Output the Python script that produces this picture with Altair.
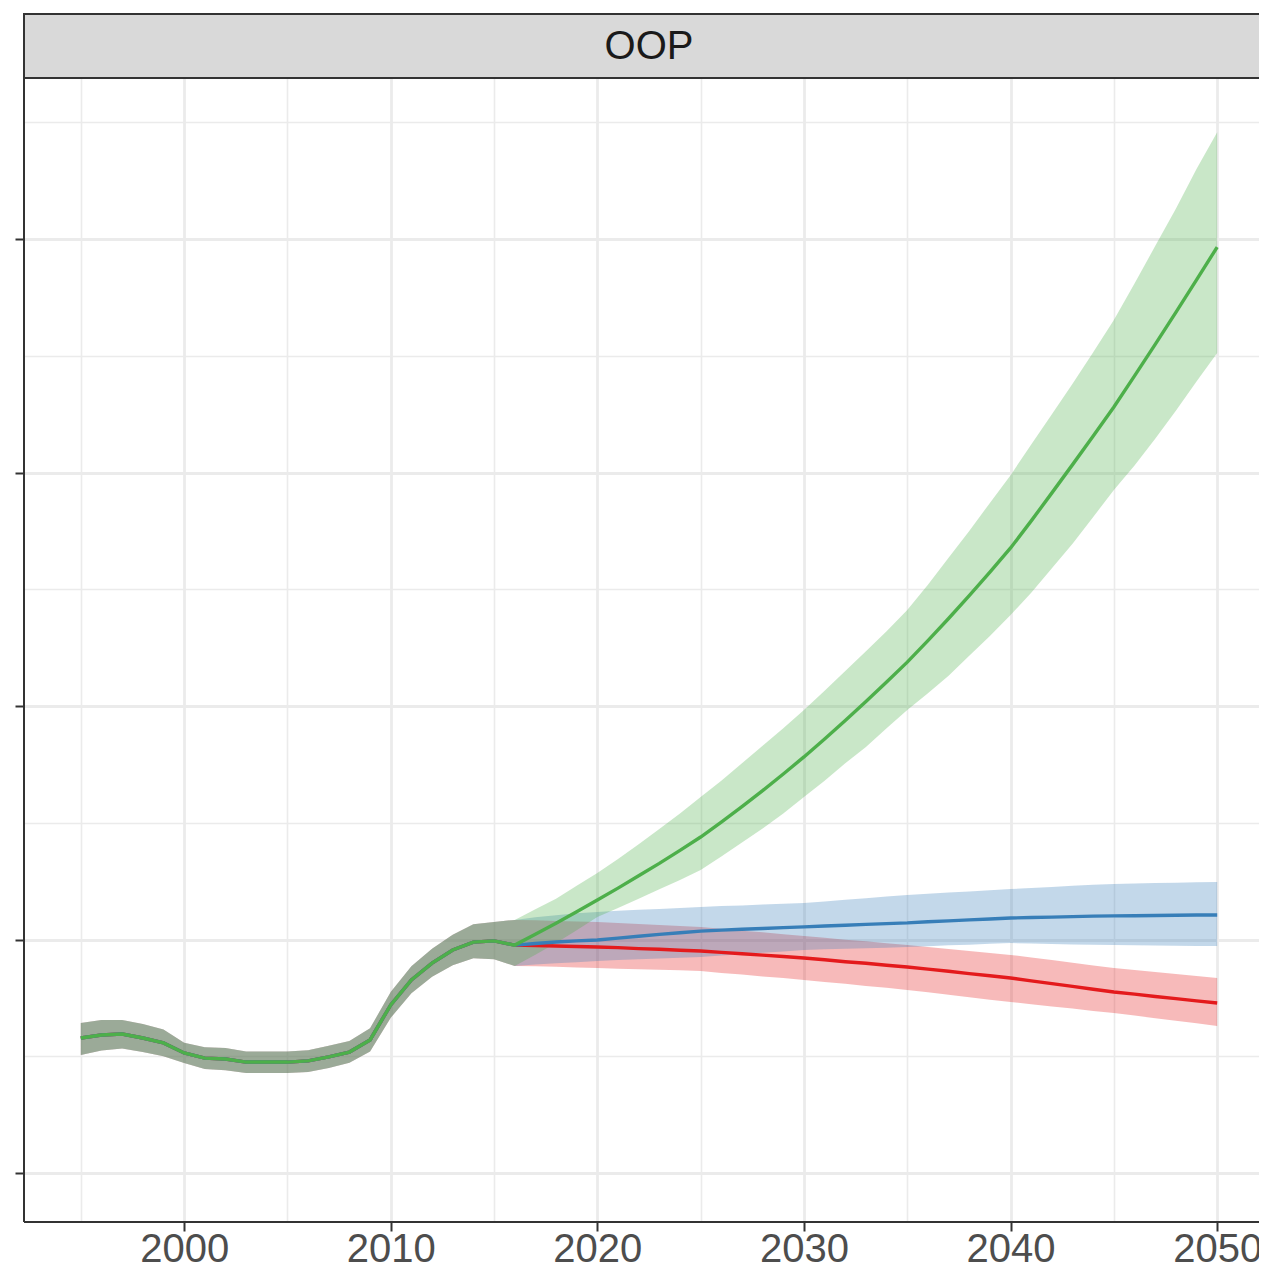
import altair as alt
import pandas as pd

panel_title = "OOP"
scenarios = ["Scenario A", "Scenario B", "Scenario C"]
scenario_colors = ["#E41A1C", "#377EB8", "#4DAF4A"]

# historical part (shared by all scenarios), 1995-2016
hist_years = list(range(1995, 2017))
hist_mean = [57.8, 59.1, 59.5, 57.8, 55.7, 51.4, 49.2, 48.8, 47.5, 47.5, 47.5,
             48.0, 49.7, 51.8, 57.0, 72.0, 82.7, 89.9, 95.5, 98.9, 99.4, 97.6]
hist_lo = [50.5, 52.5, 53.3, 51.8, 50.0, 47.1, 44.5, 44.0, 42.8, 42.8, 42.8,
           43.3, 45.0, 47.2, 52.0, 66.5, 77.0, 84.0, 89.0, 92.0, 91.5, 88.7]
hist_hi = [64.2, 65.5, 65.5, 63.8, 61.5, 55.8, 53.8, 53.5, 52.0, 52.0, 52.0,
           52.6, 54.5, 56.5, 62.0, 77.5, 88.5, 96.0, 102.0, 106.5, 107.5, 108.4]

# projections, 2017-2050
proj_years = list(range(2017, 2051))
red_mean = [97.4, 97.2, 97.0, 96.8, 96.5, 96.1, 95.8, 95.4, 95.1, 94.5, 93.9, 93.3,
            92.7, 92.1, 91.3, 90.5, 89.8, 89.0, 88.2, 87.3, 86.4, 85.4, 84.5, 83.5,
            82.3, 81.1, 79.9, 78.7, 77.5, 76.6, 75.6, 74.7, 73.7, 72.8]
red_hi = [108.2, 107.9, 107.7, 107.5, 107.1, 106.6, 106.2, 105.8, 105.4, 104.6, 103.8,
          103.1, 102.3, 101.5, 100.7, 99.9, 99.2, 98.4, 97.6, 96.8, 95.9, 95.1, 94.2,
          93.4, 92.3, 91.2, 90.0, 88.9, 87.8, 86.9, 86.1, 85.2, 84.4, 83.5]
red_lo = [88.5, 88.3, 88.0, 87.8, 87.5, 87.3, 87.0, 86.8, 86.5, 85.7, 85.0, 84.2,
          83.5, 82.7, 81.8, 81.0, 80.1, 79.3, 78.4, 77.4, 76.3, 75.3, 74.2, 73.2,
          72.3, 71.3, 70.4, 69.4, 68.5, 67.4, 66.3, 65.2, 64.1, 63.0]
blue_mean = [98.3, 98.9, 99.4, 99.8, 100.6, 101.4, 102.2, 102.9, 103.6, 104.0, 104.4,
             104.7, 105.1, 105.4, 105.8, 106.1, 106.5, 106.8, 107.1, 107.6, 108.0,
             108.4, 108.8, 109.2, 109.4, 109.6, 109.8, 110.0, 110.1, 110.2, 110.3,
             110.4, 110.5, 110.5]
blue_hi = [109.5, 110.4, 111.2, 111.8, 112.3, 112.7, 113.1, 113.5, 113.9, 114.3, 114.6,
           115.0, 115.3, 115.6, 116.3, 117.0, 117.7, 118.4, 119.1, 119.6, 120.1, 120.6,
           121.1, 121.6, 122.1, 122.5, 123.0, 123.4, 123.8, 124.0, 124.2, 124.3, 124.5,
           124.6]
blue_lo = [89.3, 89.8, 90.3, 90.8, 91.2, 91.5, 91.9, 92.2, 92.5, 93.1, 93.7, 94.3,
           94.9, 95.5, 95.8, 96.0, 96.3, 96.5, 96.8, 97.1, 97.5, 97.8, 98.2, 98.5,
           98.3, 98.1, 97.9, 97.8, 97.6, 97.5, 97.4, 97.3, 97.2, 97.2]
green_mean = [102.3, 107.0, 111.9, 116.9, 122.0, 127.3, 132.6, 138.2, 143.9, 150.3,
              156.9, 163.8, 170.9, 178.2, 185.9, 193.8, 201.9, 210.3, 218.8, 228.0,
              237.5, 247.3, 257.4, 267.7, 279.3, 291.3, 303.4, 315.7, 328.1, 341.4,
              354.9, 368.6, 382.5, 396.6]
green_hi = [113.0, 117.5, 123.0, 128.5, 134.5, 140.8, 147.3, 154.0, 161.0, 168.0, 175.5,
            183.0, 190.5, 198.3, 206.5, 215.0, 223.5, 232.0, 241.1, 252.0, 263.5, 275.0,
            287.0, 298.9, 312.0, 325.0, 338.0, 351.5, 365.3, 381.0, 397.0, 413.0, 430.0,
            445.8]
green_lo = [93.5, 98.5, 104.0, 109.6, 113.5, 117.5, 121.5, 125.5, 129.8, 135.5, 141.5,
            147.5, 154.0, 161.0, 168.0, 175.5, 182.5, 190.5, 198.3, 205.5, 213.0, 221.5,
            230.0, 239.0, 248.5, 259.0, 269.5, 281.0, 292.5, 303.0, 314.5, 326.5, 339.0,
            351.2]

x_grid_values = list(range(1995, 2051, 5))
y_grid_values = list(range(0, 451, 50))

series = [
    (scenarios[0], red_mean, red_lo, red_hi),
    (scenarios[1], blue_mean, blue_lo, blue_hi),
    (scenarios[2], green_mean, green_lo, green_hi),
]
rows = []
for name, m, lo, hi in series:
    for yr, a, b, c in zip(hist_years + proj_years, hist_mean + m, hist_lo + lo, hist_hi + hi):
        rows.append({"scenario": name, "year": yr, "value": a, "lower": b, "upper": c})
df = pd.DataFrame(rows)

FONT = "Liberation Sans"
BORDER = "#333333"
W, H_PANEL, H_STRIP = 1250, 1144, 64
H_ALL = H_PANEL + H_STRIP
Y_LO, Y_HI = -21.0, 469.0
Y_TOP = Y_HI + (Y_HI - Y_LO) * H_STRIP / H_PANEL  # strip sits above the panel

x_enc = alt.X(
    "year:Q",
    scale=alt.Scale(domain=[1992.25, 2052.75], nice=False, zero=False),
    axis=alt.Axis(
        values=x_grid_values, format="d", title=None, domain=False,
        labelExpr="datum.value % 10 === 0 ? datum.label : ''",
        tickOpacity={"condition": {"test": "datum.value % 10 === 0", "value": 1}, "value": 0},
        gridWidth={"condition": {"test": "datum.value % 10 === 0", "value": 2.8}, "value": 1.6},
        gridColor="#EBEBEB", tickColor=BORDER, tickWidth=2, tickSize=9,
        labelFont=FONT, labelFontSize=40, labelColor="#4D4D4D", labelPadding=-2,
        labelFlush=False, labelOverlap=False,
    ),
)
y_axis = alt.Axis(
    values=y_grid_values, format="d", title=None, domain=False,
    labelExpr="datum.value % 100 === 0 ? datum.label : ''",
    tickOpacity={"condition": {"test": "datum.value % 100 === 0", "value": 1}, "value": 0},
    gridWidth={"condition": {"test": "datum.value % 100 === 0", "value": 2.8}, "value": 1.6},
    gridColor="#EBEBEB", tickColor=BORDER, tickWidth=2, tickSize=9,
    labelFont=FONT, labelFontSize=40, labelColor="#4D4D4D", labelPadding=9,
    labelFlush=False, labelOverlap=False,
)
y_scale = alt.Scale(domain=[Y_LO, Y_TOP], nice=False, zero=False)

base = alt.Chart(df)
layers = []
for name, col in zip(scenarios, scenario_colors):
    layers.append(
        base.transform_filter(alt.datum.scenario == name)
        .mark_area(color=col, opacity=0.3)
        .encode(x=x_enc, y=alt.Y("lower:Q", scale=y_scale, axis=y_axis, stack=None), y2="upper:Q")
    )
for name, col in zip(scenarios, scenario_colors):
    layers.append(
        base.transform_filter(alt.datum.scenario == name)
        .mark_line(color=col, strokeWidth=3.4)
        .encode(x=x_enc, y=alt.Y("value:Q", scale=y_scale, axis=y_axis))
    )

strip_df = pd.DataFrame({"label": [panel_title], "y0": [Y_HI], "y1": [Y_TOP]})
strip_rect = alt.Chart(strip_df).mark_rect(
    fill="#D9D9D9", stroke=BORDER, strokeWidth=2
).encode(
    x=alt.value(0), x2=alt.value(W),
    y=alt.Y("y0:Q", scale=y_scale, axis=y_axis), y2="y1:Q",
)
strip_text = alt.Chart(strip_df).mark_text(
    font=FONT, fontSize=40, color="#1A1A1A", align="center", baseline="middle"
).encode(
    text="label:N", x=alt.value(W / 2), y=alt.value(H_STRIP / 2 + 1)
)

# panel border (left and bottom; the right edge lies beyond the visible area)
left_border = alt.Chart(strip_df).mark_rule(color=BORDER, strokeWidth=2).encode(
    x=alt.value(0), y=alt.value(0), y2=alt.value(H_ALL)
)
bottom_border = alt.Chart(strip_df).mark_rule(color=BORDER, strokeWidth=2).encode(
    x=alt.value(0), x2=alt.value(W), y=alt.value(H_ALL)
)

chart = alt.layer(*layers, strip_rect, strip_text, left_border, bottom_border).properties(
    width=W, height=H_ALL,
    view=alt.ViewBackground(fill="white", strokeWidth=0),
    autosize=alt.AutoSizeParams(type="none"),
    padding={"left": 16, "top": 6, "right": -15, "bottom": 40},
    background="white",
)

chart.save("out.html", embed_options={"renderer": "svg", "actions": False})
